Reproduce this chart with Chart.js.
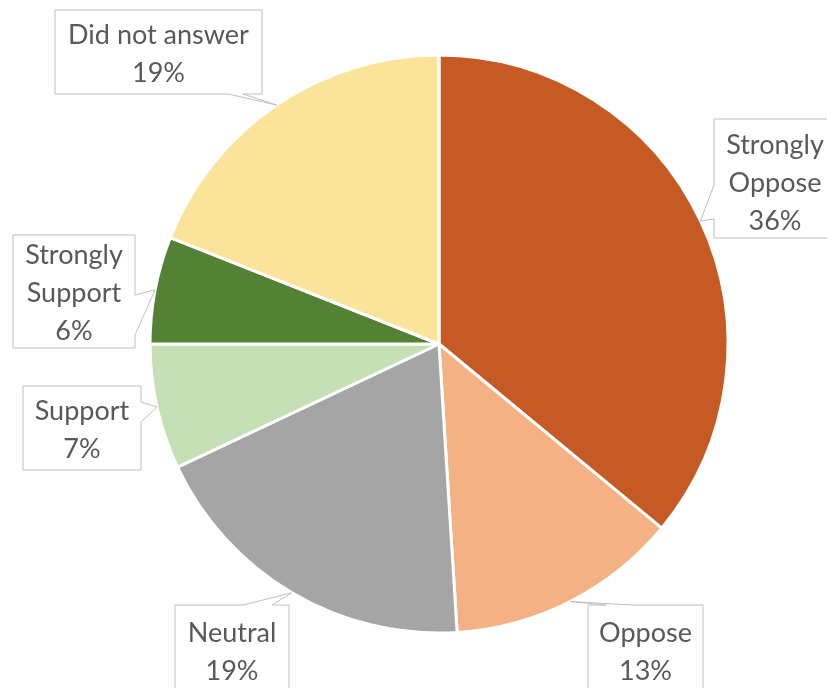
<!DOCTYPE html>
<html lang="en">

<head>
	<meta charset="UTF-8">
	<meta name="viewport" content="width=device-width, initial-scale=1.0">
	<script src="https://cdn.jsdelivr.net/npm/chart.js@4.4.0/dist/chart.umd.min.js"></script>
	<title>Survey Responses</title>
	<style>
		body { margin: 0; background: #fff; }
	</style>
</head>

<body>
	<canvas id="myChart" width="827" height="688"></canvas>
	<script>
		let labels = ["Strongly Oppose", "Oppose", "Neutral", "Support", "Strongly Support", "Did not answer"];
		let values = [36, 13, 19, 7, 6, 19];
		let sliceColors = ["#C55A24", "#F4B183", "#A5A5A5", "#C5E0B4", "#548235", "#FBE499"];

		// callout boxes: rect, which edge the pointer leaves from and the pointer base on that edge
		let callouts = [
			{ lines: ["Strongly", "Oppose"], x: 714, y: 119, w: 122, h: 119, side: "left", base: [185, 219], dy: 3 },
			{ lines: ["Oppose"], x: 588, y: 605, w: 115, h: 90, side: "top", base: [606, 632], dy: 0 },
			{ lines: ["Neutral"], x: 175, y: 605, w: 114, h: 90, side: "top", base: [243, 272], dy: 0 },
			{ lines: ["Support"], x: 23, y: 386, w: 118, h: 84, side: "right", base: [402, 422], dy: 0 },
			{ lines: ["Strongly", "Support"], x: 13, y: 235, w: 122, h: 113, side: "right", base: [295, 335], dy: 0 },
			{ lines: ["Did not answer"], x: 55, y: 10, w: 207, h: 84, side: "bottom", base: [228, 243], dy: 0 }
		];

		const calloutPlugin = {
			id: "callouts",
			afterDraw(chart) {
				const ctx = chart.ctx;
				const arcs = chart.getDatasetMeta(0).data;
				arcs.forEach((arc, i) => {
					const c = callouts[i];
					const mid = (arc.startAngle + arc.endAngle) / 2;
					const tipX = arc.x + Math.cos(mid) * arc.outerRadius;
					const tipY = arc.y + Math.sin(mid) * arc.outerRadius;
					const r = c.x + c.w, b = c.y + c.h;

					ctx.save();
					ctx.beginPath();
					ctx.moveTo(c.x, c.y);
					if (c.side === "top") {
						ctx.lineTo(c.base[0], c.y); ctx.lineTo(tipX, tipY); ctx.lineTo(c.base[1], c.y);
					}
					ctx.lineTo(r, c.y);
					if (c.side === "right") {
						ctx.lineTo(r, c.base[0]); ctx.lineTo(tipX, tipY); ctx.lineTo(r, c.base[1]);
					}
					ctx.lineTo(r, b);
					if (c.side === "bottom") {
						ctx.lineTo(c.base[1], b); ctx.lineTo(tipX, tipY); ctx.lineTo(c.base[0], b);
					}
					ctx.lineTo(c.x, b);
					if (c.side === "left") {
						ctx.lineTo(c.x, c.base[1]); ctx.lineTo(tipX, tipY); ctx.lineTo(c.x, c.base[0]);
					}
					ctx.closePath();
					ctx.fillStyle = "#fff";
					ctx.fill();
					ctx.strokeStyle = "#BFBFBF";
					ctx.lineWidth = 1;
					ctx.stroke();

					const text = c.lines.concat([values[i] + "%"]);
					const lh = 38;
					const cx = c.x + c.w / 2;
					const top = c.y + c.h / 2 - (text.length - 1) * lh / 2 + c.dy;
					ctx.fillStyle = "#595959";
					ctx.font = "27px Lato";
					ctx.textAlign = "center";
					ctx.textBaseline = "middle";
					text.forEach((t, k) => ctx.fillText(t, cx, top + k * lh + 2));
					ctx.restore();
				});
			}
		};

		new Chart("myChart", {
			type: "pie",
			data: {
				labels: labels,
				datasets: [{
					data: values,
					backgroundColor: sliceColors,
					borderColor: "#fff",
					borderWidth: 3
				}]
			},
			options: {
				responsive: false,
				animation: false,
				layout: {
					padding: { left: 148.5, top: 53.5, right: 97.5, bottom: 53.5 }
				},
				plugins: {
					legend: { display: false },
					tooltip: { enabled: false }
				}
			},
			plugins: [calloutPlugin]
		});
	</script>
</body>

</html>
